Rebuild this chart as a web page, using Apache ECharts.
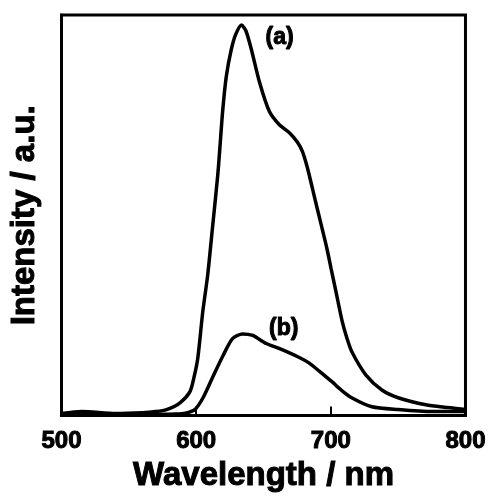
<!DOCTYPE html>
<html>
<head>
<meta charset="utf-8">
<script src="https://cdn.jsdelivr.net/npm/echarts@6/dist/echarts.min.js"></script>
<style>html,body{margin:0;padding:0;background:#fff;}#c{width:489px;height:498px;}</style>
</head>
<body>
<div id="c"></div>
<script>
var xTicks = [500, 600, 700, 800];
var wlA = [500,515,540,560,570,578,588,595.3,598.3,601.2,604.9,608.6,612.3,616,617.5,619.7,622.4,626.1,629.3,633.7,637,641,647,654.4,661.8,669.2,675.1,678.8,682.5,686.2,689.9,693.6,697.3,700.2,703.9,708.4,712.1,715.8,726.1,737.9,750.5,770.5,787.4,800];
var intA = [0.5,1.0,0.5,0.7,1.0,1.5,3.2,5.9,9.4,14.3,25.9,35.2,47.5,59.9,66.3,76.1,84.7,91.4,95.1,97.5,96,91.4,83.3,75.9,72.6,70.6,68.3,66.0,62.0,56.9,51.7,46.6,41.4,36.7,30.8,23.6,19.2,15.8,10.1,6.4,4.4,2.7,2.0,1.5];
var wlB = [500,560,585,592,599,605,612,620,627,634.5,642,652,662,676.6,684,691.4,701,708.4,715.8,730.5,750,775,800];
var intB = [0.3,0.3,0.4,0.6,1.5,4.4,9.4,15.0,19.2,20.4,20.0,18.0,16.7,14.5,13.1,11.1,8.4,6.2,4.4,2.2,1.5,1.0,1.0];
var labelNames = ['(a)', '(b)'];
var labelPos = [[662, 94.3], [665, 21.7]];

function pairs(xs, ys){ return xs.map(function(x,i){ return [x, ys[i]]; }); }

var font = '"Liberation Sans", Arial, Helvetica, sans-serif';
function ts(size){ return { color: '#000', fontSize: size, fontWeight: 'bold', fontFamily: font, textBorderColor: '#000', textBorderWidth: 1 }; }
var chart = echarts.init(document.getElementById('c'), null, {renderer:'canvas'});
chart.setOption({
  animation: false,
  backgroundColor: '#fff',
  grid: { left: 61, right: 22, top: 15, bottom: 77, show: true, borderColor: '#000', borderWidth: 3, backgroundColor: 'transparent' },
  xAxis: {
    type: 'value', min: xTicks[0], max: xTicks[xTicks.length-1], interval: 100,
    name: 'Wavelength / nm', nameLocation: 'middle', nameGap: 41,
    nameTextStyle: ts(33),
    axisLine: { show: true, lineStyle: { color: '#000', width: 3 } },
    axisTick: { show: true, inside: true, length: 9, lineStyle: { color: '#000', width: 2 } },
    axisLabel: Object.assign(ts(24), { margin: 14 }),
    splitLine: { show: false }
  },
  yAxis: {
    type: 'value', min: 0, max: 100,
    name: 'Intensity / a.u.', nameLocation: 'middle', nameGap: 20, nameRotate: 90,
    nameTextStyle: ts(33),
    axisLine: { show: true, lineStyle: { color: '#000', width: 3 } },
    axisTick: { show: false },
    axisLabel: { show: false },
    splitLine: { show: false }
  },
  series: [
    { type: 'line', data: pairs(wlA, intA), smooth: 0.25, showSymbol: false, lineStyle: { color: '#000', width: 3.5 } },
    { type: 'line', data: pairs(wlB, intB), smooth: 0.25, showSymbol: false, lineStyle: { color: '#000', width: 3.5 } },
    { type: 'scatter', symbolSize: 0, silent: true,
      itemStyle: { opacity: 1, color: '#000' },
      data: labelPos.map(function(p, i){ return { value: p, name: labelNames[i] }; }),
      label: Object.assign(ts(23), { show: true, position: 'inside', formatter: '{b}', opacity: 1 }) }
  ]
});
</script>
</body>
</html>
